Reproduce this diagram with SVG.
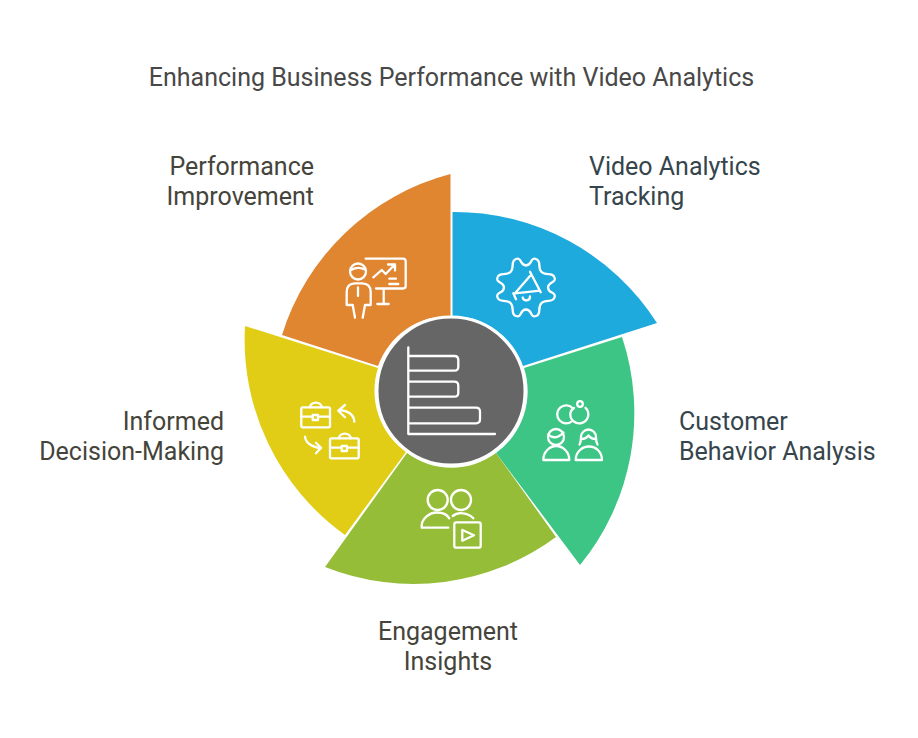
<svg xmlns="http://www.w3.org/2000/svg" width="918" height="738" viewBox="0 0 918 738">
<style>
text{font-family:Roboto,"Liberation Sans",sans-serif;font-size:25px}
.i{fill:none;stroke:#fff;stroke-width:2.300;stroke-linecap:round;stroke-linejoin:round}
.r{text-anchor:end}
.m{text-anchor:middle}
</style>
<rect width="918" height="738" fill="#fff"/>
<text x="451.500" y="86" class="m" fill="#484848">Enhancing Business Performance with Video Analytics</text>
<g id="node-orange">
<path d="M450.500 174 A240 240 0 0 0 282 335 L378 366 A75 75 0 0 1 450.500 316 Z" fill="#e08530"/>
<path class="i" d="M365.700 258.700H403Q405.700 258.700 405.700 261.400V285.800Q405.700 288.500 403 288.500H376M383.700 289V304M377.300 304H388.700M373.300 277.300L381.700 270L385.700 274L394.300 265M388 264.500H395V270.500M389.300 278.700H396M389.300 284H398.300"/>
<circle class="i" cx="358" cy="271.500" r="8"/>
<path class="i" d="M351 270Q358 266 365 269.500M358 287.500V296M346.700 305V292Q346.700 283.500 355 283.300H362Q370.700 283.500 370.700 292V305H365L362.700 317.700M347 305H352.700L355 317.700"/>
<text x="314" y="175" class="r" fill="#45443a">Performance</text>
<text x="314" y="205" class="r" fill="#45443a">Improvement</text>
</g>
<g id="node-blue">
<path d="M452.500 212 A240 240 0 0 1 657 323 L523 366 A75 75 0 0 0 452.500 316 Z" fill="#1eaadc"/>
<path class="i" transform="translate(526 287.500)" d="M22 0C22 6.500 30.600 3.900 28.500 10C26.400 16.100 20.100 10.900 15.500 15.500C10.900 20.100 16.100 26.400 10 28.500C3.900 30.600 6.500 22 0 22C-6.500 22 -3.900 30.600 -10 28.500C-16.100 26.400 -10.900 20.100 -15.500 15.500C-20.100 10.900 -26.400 16.100 -28.500 10C-30.600 3.900 -22 6.500 -22 0C-22 -6.500 -30.600 -3.900 -28.500 -10C-26.400 -16.100 -20.100 -10.900 -15.500 -15.500C-10.900 -20.100 -16.100 -26.400 -10 -28.500C-3.900 -30.600 -6.500 -22 0 -22C6.500 -22 3.900 -30.600 10 -28.500C16.100 -26.400 10.900 -20.100 15.500 -15.500C20.100 -10.900 26.400 -16.100 28.500 -10C30.600 -3.900 22 -6.500 22 0Z"/>
<path class="i" d="M530 271.700L540.700 292.300M530 276L515 293.300L540 290.700M513.300 293.300L516 299.300M522.700 297.500A3.700 3.700 0 0 0 530 296.500"/>
<text x="589" y="175" fill="#36454c">Video Analytics</text>
<text x="589" y="205" fill="#36454c">Tracking</text>
</g>
<g id="node-green">
<path d="M622 337 A240 240 0 0 1 580 565 L496 453 A76 76 0 0 0 524 368 Z" fill="#3dc585"/>
<path class="i" d="M573 408.500A9 9 0 1 0 572.500 420.800M585.500 407.800A9 9 0 1 1 570.400 413Q571 410 574 408"/>
<circle class="i" cx="580" cy="404" r="2.800"/>
<circle class="i" cx="556" cy="437" r="8"/>
<path class="i" d="M548.300 434.500Q555 441 563.500 432.500M543.300 460H569.300C569.300 452 563 446 556.300 446C549.500 446 543.300 452 543.300 460Z"/>
<path class="i" d="M579.500 444.500Q581 442 581 437A7.500 7.500 0 0 1 596 437Q596 442 597.500 444.500M581.500 439Q586 439 588.500 435.500Q591 439 595.500 439M575.700 460H602C602 452 596 446.500 589 446.500C582 446.500 575.700 452 575.700 460Z"/>
<text x="679" y="430" fill="#36454c">Customer</text>
<text x="679" y="460" fill="#36454c">Behavior Analysis</text>
</g>
<g id="node-olive">
<path d="M556 537 A240 240 0 0 1 325 567 L407 453 A75 75 0 0 0 496 453 Z" fill="#95bd38"/>
<circle class="i" cx="437.700" cy="500" r="10"/>
<circle class="i" cx="461" cy="500" r="10"/>
<path class="i" d="M448.300 527.700H421.700V526C421.700 519 429 512.500 437 512.500C442 512.500 447 514.500 449.300 518.300M452.700 516C458 511.500 468 512.500 473.300 518.300"/>
<rect class="i" x="454.300" y="522.300" width="26.400" height="25.400" rx="2"/>
<path class="i" d="M462.300 530L474 535.300L462.300 540.700Z"/>
<text x="448" y="640" class="m" fill="#45443a">Engagement</text>
<text x="448" y="670" class="m" fill="#45443a">Insights</text>
</g>
<g id="node-yellow">
<path d="M245 326 A240 240 0 0 0 345 535 L406 452 A75 75 0 0 1 378 368 Z" fill="#e1cd15"/>
<rect class="i" x="301.300" y="407.300" width="28.700" height="20" rx="1.500"/>
<path class="i" d="M310 407.300A5.800 4.700 0 0 1 321.700 407.300M301.300 416.700H312.700M318 416.700H330"/>
<rect class="i" x="312.700" y="415" width="5.300" height="5"/>
<rect class="i" x="330" y="438.300" width="28.700" height="20" rx="1.500"/>
<path class="i" d="M339 438.300A5.800 4.700 0 0 1 350.700 438.300M330 447.700H341.700M347 447.700H358.700"/>
<rect class="i" x="341.700" y="446" width="5.300" height="5"/>
<path class="i" d="M354.300 421.700Q354 412 340 410M345 405L338.300 410.700L345 417.300M305 436.700Q306 446 321 448.300M316 442.700L321 447.700L316 453.300"/>
<text x="224" y="430" class="r" fill="#45443a">Informed</text>
<text x="224" y="460" class="r" fill="#45443a">Decision-Making</text>
</g>
<g id="node-center">
<circle cx="451" cy="391" r="74" fill="#666" stroke="#fff" stroke-width="3"/>
<path class="i" d="M408.300 347.300V434H495M408.300 356H454.300Q458.300 356 458.300 360V366.700Q458.300 370.700 454.300 370.700H408.300M408.300 381.700H454.300Q458.300 381.700 458.300 385.700V392.700Q458.300 396.700 454.300 396.700H408.300M408.300 407.700H476Q480 407.700 480 411.700V419.300Q480 423.300 476 423.300H408.300"/>
</g>
</svg>
